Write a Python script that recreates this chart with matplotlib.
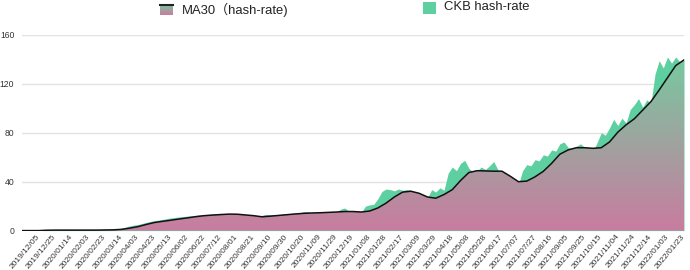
#! /usr/bin/env python3
#
# CKB hash-rate with its 30-day moving average
#

import numpy as np
import matplotlib
matplotlib.use("Agg")
import matplotlib.pyplot as plt
import matplotlib.dates as mdates
from matplotlib.colors import LinearSegmentedColormap
from matplotlib.patches import Polygon, Rectangle
from matplotlib.lines import Line2D

# Data
startDate = "2019-11-15"
hashStepDays = 5
maStepDays = 10

# daily hash-rate, sampled every 5 days
hashRate = [0, 0, 0, 0, 0, 0,
	0.8, 0.9, 0.9, 1.0, 0.9, 1.0, 1.0, 0.9, 1.0, 1.0, 1.0, 1.1, 1.0, 1.1, 1.1, 1.2, 1.2,
	1.3, 1.8, 2.8, 3.8, 4.5, 5.0, 5.8, 6.7, 7.5, 8.2,
	8.6, 9.2, 9.8, 10.4, 10.8, 11.2, 11.5, 11.9, 12.1, 12.5,
	12.8, 13.0, 13.2, 13.6, 14.0, 14.1, 13.9, 13.7, 13.0, 12.4,
	11.8, 11.5, 11.2, 11.0, 11.0, 12.4, 13.2, 13.0, 13.2, 13.0,
	13.6, 13.8, 14.0, 14.2, 14.4, 15.4, 15.6, 14.6, 14.8, 14.6,
	14.9, 15.0, 15.2, 15.0, 17.5, 18.5, 16.0, 15.0, 14.5, 14.8,
	20.0, 21.0, 21.5, 26.0, 32.0, 34.0, 33.5, 32.5, 34.0, 33.0,
	33.5, 33.0, 31.0, 29.0, 28.0, 26.5, 33.5, 31.5, 35.0, 33.0,
	47.0, 52.0, 49.0, 55.0, 57.5, 51.0, 48.0, 49.0, 52.0, 50.0,
	53.0, 56.5, 50.0, 48.0, 43.0, 41.0, 38.0, 38.0, 49.0, 54.0,
	53.0, 58.0, 57.0, 62.0, 61.0, 66.0, 65.0, 71.0, 72.5, 68.0,
	67.0, 69.0, 71.0, 68.0, 66.0, 65.0, 72.0, 80.0, 78.0, 84.0,
	91.0, 86.0, 92.0, 88.0, 99.0, 103.0, 108.0, 101.0, 107.0, 104.0,
	128.0, 139.0, 133.0, 142.0, 137.0, 142.0, 138.0, 141.0]

# MA30, sampled every 10 days
ma30 = [0, 0, 0, 0.3, 0.4, 0.4, 0.4, 0.4, 0.4, 0.4,
	0.5, 0.6, 1.0, 2.0, 3.2, 5.0, 6.6, 7.6, 8.5, 9.5,
	10.4, 11.4, 12.2, 12.7, 13.1, 13.5, 13.4, 12.8, 12.2, 11.3,
	11.8, 12.4, 13.0, 13.6, 14.1, 14.4, 14.6, 14.9, 15.2, 15.6,
	15.6, 15.2, 16.0, 18.5, 22.5, 27.5, 31.5, 32.2, 30.5, 27.5,
	26.5, 29.5, 33.5, 41.0, 47.5, 49.0, 48.8, 48.6, 48.6, 44.5,
	40.0, 40.5, 44.0, 48.5, 55.0, 62.5, 66.0, 67.8, 67.8, 67.3,
	67.8, 72.5, 80.5, 86.5, 91.5, 98.5, 105.5, 115.0, 125.0, 135.0,
	139.6]

firstTickDate = "2019-12-05"
lastTickDate = "2022-01-23"
tickStepDays = 20
yTicks = [0, 40, 80, 120, 160]

legendMA = "MA30（hash-rate)"
legendHash = "CKB hash-rate"

# Styles
hashColor = "#5ecfa0"
gradTop = "#78c8a0"
gradBottom = "#c97c9f"
gridColor = "#e3e3e3"
textColor = "#333333"
fontList = ["Liberation Sans", "Noto Sans CJK SC", "DejaVu Sans"]
plt.rcParams['font.family'] = fontList

W, H = 690., 270.
fig = plt.figure(figsize=(W/100, H/100), dpi=100)
ax = fig.add_axes([22/W, 1-230.6/H, 662/W, (230.6-35)/H])

d0 = np.datetime64(startDate)
hashDates = d0 + np.arange(len(hashRate))*np.timedelta64(hashStepDays, 'D')
maDates = d0 + np.arange(len(ma30))*np.timedelta64(maStepDays, 'D')

# hash-rate area
ax.fill_between(hashDates, hashRate, 0, color=hashColor, lw=0, zorder=1)

# MA30 area with vertical gradient
xs = mdates.date2num(maDates)
verts = [(xs[0], 0)] + list(zip(xs, ma30)) + [(xs[-1], 0)]
clip = Polygon(verts, closed=True, facecolor='none', edgecolor='none')
ax.add_patch(clip)
cmap = LinearSegmentedColormap.from_list("maGrad", [gradBottom, gradTop])
grad = np.linspace(0, 1, 256).reshape(-1, 1)
im = ax.imshow(grad, cmap=cmap, aspect='auto', origin='lower',
	extent=[xs[0], xs[-1], 0, max(ma30)], zorder=2, interpolation='bilinear')
im.set_clip_path(clip)
ax.plot(maDates, ma30, color="#111111", lw=1.1, zorder=3, solid_joinstyle='round')

# Axes
ax.set_xlim(hashDates[0], np.datetime64(lastTickDate))
ax.set_ylim(0, 160)
ax.set_yticks(yTicks)
ax.set_yticklabels([str(t) for t in yTicks])
tickDates = np.arange(np.datetime64(firstTickDate), np.datetime64(lastTickDate) + 1,
	np.timedelta64(tickStepDays, 'D'))
ax.set_xticks(tickDates)
ax.set_xticklabels([str(t).replace("-", "/") for t in tickDates])
ax.grid(axis='y', color=gridColor, lw=1, zorder=0)
ax.set_axisbelow(True)
for s in ax.spines.values():
	s.set_visible(False)
ax.tick_params(axis='y', length=0, pad=5.5, labelsize=6.2, labelcolor=textColor)
ax.tick_params(axis='x', length=0, pad=3.5, labelsize=6.0, labelcolor=textColor)
plt.setp(ax.get_xticklabels(), rotation=50, ha='right', va='center', rotation_mode='anchor')

# Legend (drawn by hand)
gax = fig.add_axes([160/W, 1-15.5/H, 13/W, 11/H])
gax.imshow(grad, cmap=cmap, aspect='auto', origin='lower')
gax.axis("off")
fig.add_artist(Line2D([160/W, 173/W], [1-4.8/H, 1-4.8/H], color="#222222", lw=1.5))
fig.text(182/W, 1-10/H, legendMA, fontsize=9.4, va='center', ha='left', color="#222222")
fig.patches.append(Rectangle((423/W, 1-13.5/H), 13/W, 12/H, transform=fig.transFigure,
	facecolor=hashColor, edgecolor='none', figure=fig))
fig.text(444/W, 1-7.3/H, legendHash, fontsize=9.4, va='center', ha='left', color="#222222")

fig.savefig("out.png", dpi=100)
plt.close(fig)
